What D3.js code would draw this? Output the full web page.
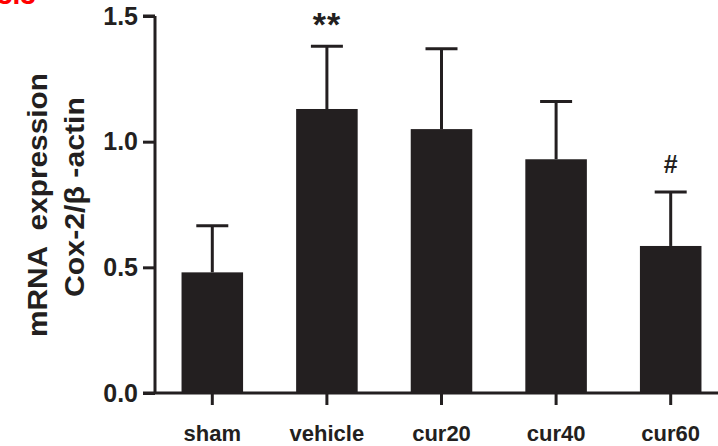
<!DOCTYPE html>
<html>
<head>
<meta charset="utf-8">
<script src="https://cdn.jsdelivr.net/npm/d3@7"></script>
<style>
  html, body { margin: 0; padding: 0; background: #fff; }
  svg { display: block; font-family: Arial, "Liberation Sans", Helvetica, sans-serif; }
</style>
</head>
<body>
<svg id="chart" width="718" height="446"></svg>
<script>
// ---- data ----
const categories = ["sham", "vehicle", "cur20", "cur40", "cur60"];
const means = [0.48, 1.13, 1.05, 0.93, 0.585];
const errors = [0.185, 0.25, 0.32, 0.23, 0.215];
const marks = ["", "**", "", "", "#"];
const yTicks = [0.0, 0.5, 1.0, 1.5];
const yTitle1 = "mRNA  expression";
const yTitle2 = "Cox-2/β -actin";
const panelLabel = "3.3";

const ink = "#231f20";
const svg = d3.select("#chart");

const x0 = 155, y0 = 393;
const step = 114.6;
const x = d3.scaleBand()
  .domain(categories)
  .range([x0, x0 + step * categories.length])
  .paddingInner(0.463)
  .paddingOuter(0.2315);
const y = d3.scaleLinear().domain([0, 1.5]).range([y0, 16]);

// bars
svg.append("g").selectAll("rect")
  .data(categories)
  .join("rect")
  .attr("x", d => x(d))
  .attr("y", (d, i) => y(means[i]))
  .attr("width", x.bandwidth())
  .attr("height", (d, i) => y(0) - y(means[i]))
  .attr("fill", ink);

// error bars
const eb = svg.append("g").attr("stroke", ink).attr("stroke-width", 3);
categories.forEach((c, i) => {
  const cx = x(c) + x.bandwidth() / 2;
  eb.append("line").attr("x1", cx).attr("x2", cx)
    .attr("y1", y(means[i])).attr("y2", y(means[i] + errors[i]));
  eb.append("line").attr("x1", cx - 16).attr("x2", cx + 16)
    .attr("y1", y(means[i] + errors[i])).attr("y2", y(means[i] + errors[i]));
});

// significance marks
categories.forEach((c, i) => {
  if (!marks[i]) return;
  const cx = x(c) + x.bandwidth() / 2;
  const isStar = marks[i] === "**";
  svg.append("text")
    .attr("x", cx)
    .attr("y", isStar ? y(means[i] + errors[i]) - 10 : y(means[i] + errors[i]) - 19)
    .attr("text-anchor", "middle")
    .attr("font-size", isStar ? 34 : 25)
    .attr("font-weight", "bold")
    .attr("letter-spacing", isStar ? 1 : 0)
    .attr("fill", ink)
    .text(marks[i]);
});

// y axis
const yAxis = d3.axisLeft(y).tickValues(yTicks).tickFormat(d3.format(".1f"))
  .tickSize(12).tickPadding(5);
const gy = svg.append("g").attr("transform", `translate(${x0},0)`).call(yAxis);
gy.select(".domain").attr("stroke", ink).attr("stroke-width", 3)
  .attr("d", `M0,${y(1.5)}H-12M0,${y(1.5)}V${y0}`);
gy.selectAll(".tick line").attr("stroke", ink).attr("stroke-width", 3);
gy.selectAll(".tick text").attr("font-size", 25).attr("font-weight", "bold")
  .attr("fill", ink).attr("font-family", "Arial, 'Liberation Sans', sans-serif");

// x axis
const xAxis = d3.axisBottom(x).tickSize(12).tickPadding(20);
const gx = svg.append("g").attr("transform", `translate(0,${y0})`).call(xAxis);
gx.select(".domain").attr("stroke", ink).attr("stroke-width", 3)
  .attr("d", `M${x0 - 12},0H718`);
gx.selectAll(".tick line").attr("stroke", ink).attr("stroke-width", 3);
gx.selectAll(".tick text").attr("font-size", 22).attr("font-weight", "bold")
  .attr("fill", ink).attr("font-family", "Arial, 'Liberation Sans', sans-serif");

// y title
svg.append("text")
  .attr("transform", "translate(47,205) rotate(-90)")
  .attr("text-anchor", "middle")
  .attr("font-size", 28).attr("font-weight", "bold").attr("fill", ink)
  .attr("textLength", 264).attr("lengthAdjust", "spacingAndGlyphs")
  .style("white-space", "pre")
  .text(yTitle1);
svg.append("text")
  .attr("transform", "translate(84,197) rotate(-90)")
  .attr("text-anchor", "middle")
  .attr("font-size", 28).attr("font-weight", "bold").attr("fill", ink)
  .attr("textLength", 200).attr("lengthAdjust", "spacingAndGlyphs")
  .style("white-space", "pre")
  .text(yTitle2);

// clipped red panel label
svg.append("text")
  .attr("x", -3).attr("y", 4)
  .attr("font-size", 28).attr("font-weight", "bold").attr("fill", "#ff0000")
  .text(panelLabel);
</script>
</body>
</html>
